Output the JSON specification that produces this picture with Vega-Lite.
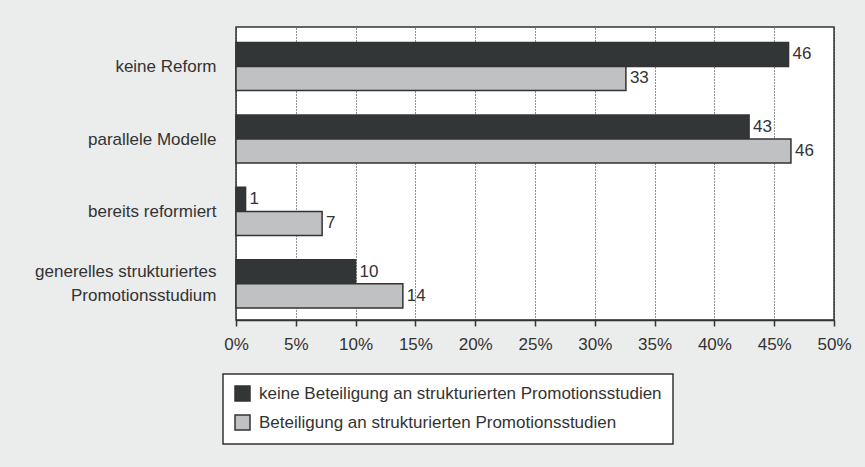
{
  "$schema": "https://vega.github.io/schema/vega-lite/v6.json",
  "width": 598,
  "height": 293,
  "autosize": "none",
  "padding": {"left": 236, "top": 27, "right": 31, "bottom": 147},
  "background": "#ebecec",
  "data": {
    "values": [
      {"kategorie": "keine Reform", "gruppe": "keine Beteiligung an strukturierten Promotionsstudien", "wert": 46.2},
      {"kategorie": "keine Reform", "gruppe": "Beteiligung an strukturierten Promotionsstudien", "wert": 32.6},
      {"kategorie": "parallele Modelle", "gruppe": "keine Beteiligung an strukturierten Promotionsstudien", "wert": 42.9},
      {"kategorie": "parallele Modelle", "gruppe": "Beteiligung an strukturierten Promotionsstudien", "wert": 46.4},
      {"kategorie": "bereits reformiert", "gruppe": "keine Beteiligung an strukturierten Promotionsstudien", "wert": 0.8},
      {"kategorie": "bereits reformiert", "gruppe": "Beteiligung an strukturierten Promotionsstudien", "wert": 7.2},
      {"kategorie": "generelles strukturiertes Promotionsstudium", "gruppe": "keine Beteiligung an strukturierten Promotionsstudien", "wert": 10.0},
      {"kategorie": "generelles strukturiertes Promotionsstudium", "gruppe": "Beteiligung an strukturierten Promotionsstudien", "wert": 13.95}
    ]
  },
  "encoding": {
    "y": {
      "field": "kategorie",
      "type": "nominal",
      "sort": null,
      "title": null,
      "scale": {"paddingInner": 0.337, "paddingOuter": 0.19, "align": 0.56},
      "axis": {
        "domain": false,
        "ticks": false,
        "labelPadding": 20,
        "labelFontSize": 17,
        "labelLineHeight": 24,
        "labelColor": "#333333",
        "labelFont": "Liberation Sans",
        "labelLimit": 300,
        "labelOffset": {"condition": {"test": "datum.value == 'generelles strukturiertes Promotionsstudium'", "value": -12}, "value": 1},
        "labelExpr": "datum.value == 'generelles strukturiertes Promotionsstudium' ? ['generelles strukturiertes', 'Promotionsstudium'] : datum.value"
      }
    },
    "yOffset": {
      "field": "gruppe",
      "type": "nominal",
      "sort": ["keine Beteiligung an strukturierten Promotionsstudien", "Beteiligung an strukturierten Promotionsstudien"],
      "scale": {"paddingInner": 0, "paddingOuter": 0}
    },
    "x": {
      "field": "wert",
      "type": "quantitative",
      "title": null,
      "scale": {"domain": [0, 50], "nice": false},
      "axis": {
        "values": [0, 5, 10, 15, 20, 25, 30, 35, 40, 45, 50],
        "labelExpr": "datum.value + '%'",
        "labelFontSize": 17,
        "labelFont": "Liberation Sans",
        "labelColor": "#333333",
        "labelPadding": 10,
        "tickSize": 6,
        "tickWidth": 1.5,
        "tickColor": "#333333",
        "domainColor": "#333333",
        "domainWidth": 1.5,
        "grid": true,
        "gridColor": "#222222",
        "gridWidth": 1,
        "gridDash": [1, 2],
        "labelFlush": false
      }
    }
  },
  "layer": [
    {
      "mark": {"type": "bar", "stroke": "#333333", "strokeWidth": 1.5},
      "encoding": {
        "color": {
          "field": "gruppe",
          "type": "nominal",
          "scale": {
            "domain": ["keine Beteiligung an strukturierten Promotionsstudien", "Beteiligung an strukturierten Promotionsstudien"],
            "range": ["#333637", "#c0c1c2"]
          },
          "legend": {
            "title": null,
            "orient": "none",
            "legendX": -13,
            "legendY": 347,
            "fillColor": "white",
            "strokeColor": "#333333",
            "padding": 11,
            "symbolType": "square",
            "symbolSize": 225,
            "symbolStrokeColor": "#333333",
            "symbolStrokeWidth": 1.5,
            "symbolOpacity": 1,
            "labelFontSize": 17,
            "labelFont": "Liberation Sans",
            "labelColor": "#333333",
            "labelOffset": 8,
            "rowPadding": 8,
            "labelLimit": 500
          }
        }
      }
    },
    {
      "mark": {"type": "text", "align": "left", "baseline": "middle", "dx": 4, "fontSize": 17, "font": "Liberation Sans", "color": "#333333"},
      "encoding": {
        "text": {"field": "wert", "type": "quantitative", "format": ".0f"}
      }
    }
  ],
  "config": {
    "view": {"stroke": "#333333", "strokeWidth": 1.5, "fill": "white"},
    "legend": {"strokeWidth": 1.5}
  }
}
